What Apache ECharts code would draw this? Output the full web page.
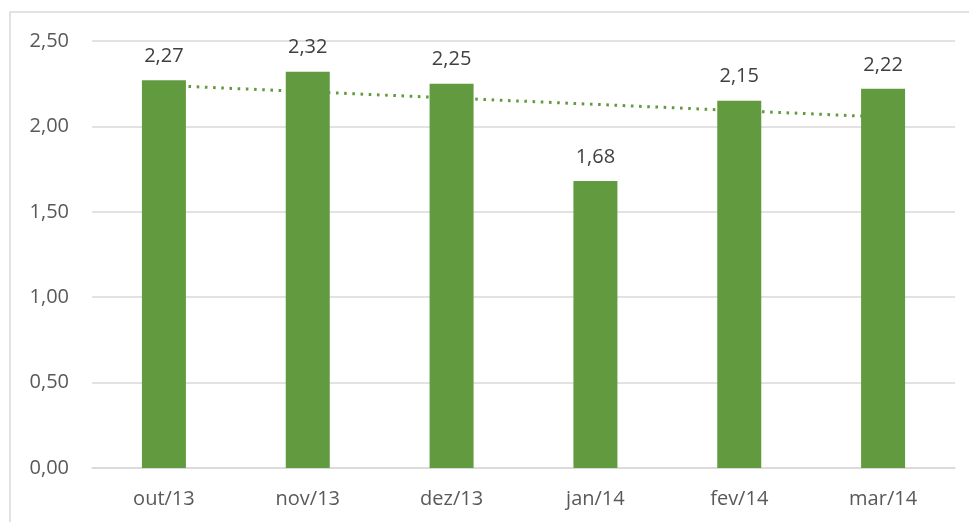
<!DOCTYPE html>
<html>
<head>
<meta charset="utf-8">
<script src="https://cdn.jsdelivr.net/npm/echarts@6/dist/echarts.min.js"></script>
<style>html,body{margin:0;padding:0;background:#fff}#c{width:969px;height:522px}</style>
</head>
<body>
<div id="c"></div>
<script>
var categories = ['out/13', 'nov/13', 'dez/13', 'jan/14', 'fev/14', 'mar/14'];
var values = [2.27, 2.32, 2.25, 1.68, 2.15, 2.22];
var trendValues = [2.24, null, null, null, null, 2.055];
var yTicks = [0, 0.5, 1.0, 1.5, 2.0, 2.5];

function fmt(v) { return v.toFixed(2).replace('.', ','); }

var chart = echarts.init(document.getElementById('c'));
chart.setOption({
  animation: false,
  backgroundColor: '#ffffff',
  textStyle: { fontFamily: 'Open Sans' },
  graphic: [{
    type: 'rect', silent: true, z: -10,
    shape: { x: 10, y: 12, width: 1000, height: 600 },
    style: { fill: 'none', stroke: '#D9D9D9', lineWidth: 1.5 }
  }],
  grid: { left: 92, right: 14, top: 41, bottom: 54, containLabel: false },
  xAxis: {
    type: 'category',
    data: categories,
    axisLine: { show: true, lineStyle: { color: '#D9D9D9', width: 1.5 } },
    axisTick: { show: false },
    axisLabel: { color: '#595959', fontSize: 20, margin: 21, fontFamily: 'Open Sans' }
  },
  yAxis: {
    type: 'value',
    min: yTicks[0], max: yTicks[yTicks.length - 1], interval: 0.5,
    axisLine: { show: false },
    axisTick: { show: false },
    splitLine: { lineStyle: { color: '#D9D9D9', width: 1.5 } },
    axisLabel: { color: '#595959', fontSize: 20, margin: 23, fontFamily: 'Open Sans', formatter: function (v) { return fmt(v); } }
  },
  series: [
    {
      type: 'line',
      data: trendValues,
      connectNulls: true,
      symbol: 'none',
      z: 1,
      lineStyle: { color: '#629B3F', width: 3, type: [2.6, 5.6], cap: 'butt' }
    },
    {
      type: 'bar',
      data: values,
      barWidth: 44,
      z: 2,
      itemStyle: { color: '#629B3F' },
      label: {
        show: true, position: 'top', distance: 14,
        color: '#404040', fontSize: 20, fontFamily: 'Open Sans',
        formatter: function (p) { return fmt(p.value); }
      }
    }
  ]
});
</script>
</body>
</html>
